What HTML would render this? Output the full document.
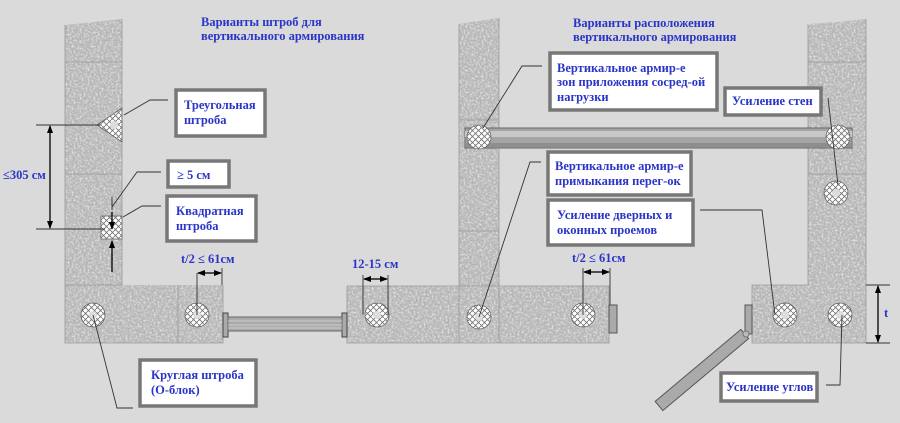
<!DOCTYPE html>
<html><head><meta charset="utf-8"><style>
html,body{margin:0;padding:0;background:#dadada;}
svg{display:block}
text{font-family:"Liberation Serif",serif;font-weight:bold;fill:#2a35c8;font-size:12.5px}
</style></head><body>
<svg width="900" height="423" viewBox="0 0 900 423" xmlns="http://www.w3.org/2000/svg">
<defs>
<filter id="gr" x="0" y="0" width="100%" height="100%">
<feTurbulence type="fractalNoise" baseFrequency="0.5" numOctaves="2" seed="3" result="n"/>
<feColorMatrix in="n" type="matrix" values="0 0 0 0 0.4  0 0 0 0 0.4  0 0 0 0 0.4  0 0 0 -1.6 0.9" result="a"/>
<feComposite in="a" in2="SourceGraphic" operator="in" result="d"/>
<feTurbulence type="fractalNoise" baseFrequency="0.5" numOctaves="2" seed="9" result="n2"/>
<feColorMatrix in="n2" type="matrix" values="0 0 0 0 0.95  0 0 0 0 0.95  0 0 0 0 0.95  0 0 0 -1.6 0.9" result="b"/>
<feComposite in="b" in2="SourceGraphic" operator="in" result="e"/>
<feMerge><feMergeNode in="SourceGraphic"/><feMergeNode in="d"/><feMergeNode in="e"/></feMerge>
</filter>
<pattern id="hx" width="6" height="6" patternUnits="userSpaceOnUse">
<rect width="6" height="6" fill="#fff"/><path d="M0 3 L3 0 M3 6 L6 3 M0 0 L6 6" stroke="#777" stroke-width="0.9"/>
</pattern>
<marker id="ar" markerWidth="8" markerHeight="8" refX="7" refY="4" orient="auto" markerUnits="userSpaceOnUse"><path d="M0 1 L8 4 L0 7z" fill="#000"/></marker>
</defs>
<rect width="900" height="423" fill="#dadada"/>
<g fill="#b9b9b9" filter="url(#gr)">
<path d="M65 25 L95 22 L122 19 L122 285 L65 285 Z"/>
<rect x="65" y="285" width="158" height="58"/>
<rect x="347" y="286" width="262" height="57"/>
<path d="M459 24 L499 18 L499 286 L459 286 Z"/>
<path d="M808 24 L838 22 L866 19 L866 285 L808 285 Z"/>
<rect x="752" y="285" width="114" height="58"/>
</g>
<g stroke="#999" stroke-width="0.8" fill="none">
<path d="M65 62H122M65 174H122M65 285H122V285M178 285V343"/>
<path d="M459 120H499M459 231H499M459 286V343M499 286V343"/>
<path d="M808 62H866M808 174H866"/>
<path d="M65 25V343H223V285M122 19V285M347 286H609V343H347Z M459 24V286M499 18V286M808 24V285M866 19V343H752V285H808"/>
</g>
<!-- pipe -->
<rect x="465" y="128" width="387" height="20" fill="#a4a4a4" stroke="#666"/>
<rect x="465" y="131" width="387" height="6" fill="#c8c8c8"/>
<rect x="465" y="143" width="387" height="4" fill="#8e8e8e"/>
<!-- circles -->
<g fill="url(#hx)" stroke="#666" stroke-width="0.8">
<circle cx="93" cy="315" r="12"/><circle cx="197" cy="315" r="12"/><circle cx="377" cy="315" r="12"/>
<circle cx="479" cy="317" r="12"/><circle cx="583" cy="315" r="12"/><circle cx="785" cy="315" r="12"/>
<circle cx="840" cy="315" r="12"/><circle cx="479" cy="137" r="12"/><circle cx="838" cy="137" r="12"/>
<circle cx="836" cy="193" r="12"/>
<path d="M122 108 L97 125 L122 142 Z"/><rect x="101" y="216" width="21" height="23"/>
</g>
<g fill="#ddd"><circle cx="93" cy="315" r="4"/><circle cx="197" cy="315" r="4"/><circle cx="377" cy="315" r="4"/><circle cx="479" cy="317" r="4"/><circle cx="583" cy="315" r="4"/><circle cx="785" cy="315" r="4"/><circle cx="840" cy="315" r="4"/><circle cx="836" cy="193" r="4"/><circle cx="114" cy="125" r="4"/></g>
<!-- door bars -->
<rect x="223" y="313" width="5" height="24" fill="#aaa" stroke="#444"/>
<rect x="342" y="313" width="5" height="24" fill="#aaa" stroke="#444"/>
<rect x="228" y="317" width="114" height="14" fill="#aaa" stroke="#666"/>
<path d="M228 321H342M228 325H342M228 328H342" stroke="#ccc"/>
<rect x="609" y="305" width="8" height="28" fill="#aaa" stroke="#555"/>
<rect x="745" y="305" width="7" height="29" fill="#aaa" stroke="#555"/>
<rect x="0" y="-6" width="112" height="12" fill="#aaa" stroke="#555" transform="translate(659,406) rotate(-40)"/>
<circle cx="746" cy="334" r="3" fill="#bbb" stroke="#777"/>
<!-- leaders -->
<g stroke="#333" stroke-width="0.9" fill="none">
<path d="M124 115 L150 100 L168 100"/>
<path d="M112 197 L112 207 L137 172 L161 172"/>
<path d="M112 197 V210"/>
<path d="M123 217 L142 206 L161 206"/>
<path d="M93 315 L117 408 L133 408"/>
<path d="M483 128 L522 66 L542 66"/>
<path d="M479 317 L530 162 L541 162"/>
<path d="M828 98 L838 185"/>
<path d="M700 210 L762 210 L775 315"/>
<path d="M842 315 L840 385 L826 385"/>
<path d="M36 125H100M36 229H105"/>
<path d="M197 315V273M222 268V285M363 275V315M388 275V315M583 315V268M610 268V305"/>
<path d="M866 285H890M866 343H890"/>
</g>
<g stroke="#000" stroke-width="1.3" fill="none" marker-end="url(#ar)" >
<path d="M50 175V126"/><path d="M50 175V228"/>
<path d="M210 273H198"/><path d="M210 273H221"/>
<path d="M376 279H364"/><path d="M376 279H387"/>
<path d="M597 272H584"/><path d="M597 272H609"/>
<path d="M878 314V286"/><path d="M878 314V342"/>
<path d="M112 272V241"/><path d="M112 212V229"/>
</g>
<!-- boxes -->
<g fill="#fff" stroke="#777" stroke-width="3.5">
<rect x="176" y="90" width="89" height="46"/>
<rect x="168" y="161" width="61" height="26"/>
<rect x="167" y="196" width="89" height="45"/>
<rect x="140" y="360" width="116" height="46"/>
<rect x="550" y="53" width="167" height="57"/>
<rect x="725" y="88" width="96" height="27"/>
<rect x="548" y="152" width="143" height="43"/>
<rect x="548" y="200" width="145" height="45"/>
<rect x="721" y="373" width="96" height="28"/>
</g>
<text x="201" y="26">Варианты штроб для</text>
<text x="201" y="40">вертикального армирования</text>
<text x="573" y="27">Варианты расположения</text>
<text x="573" y="41">вертикального армирования</text>
<text x="184" y="109">Треугольная</text><text x="184" y="124">штроба</text>
<text x="177" y="179">≥ 5 см</text>
<text x="176" y="215">Квадратная</text><text x="176" y="230">штроба</text>
<text x="151" y="379">Круглая штроба</text><text x="151" y="394">(О-блок)</text>
<text x="557" y="72">Вертикальное армир-е</text><text x="557" y="86">зон приложения сосред-ой</text><text x="557" y="101">нагрузки</text>
<text x="732" y="105">Усиление стен</text>
<text x="555" y="170">Вертикальное армир-е</text><text x="555" y="185">примыкания перег-ок</text>
<text x="557" y="219">Усиление дверных и</text><text x="557" y="234">оконных проемов</text>
<text x="726" y="391">Усиление углов</text>
<text x="3" y="179">≤305 см</text>
<text x="181" y="263">t/2  ≤ 61см</text>
<text x="352" y="268">12-15 см</text>
<text x="572" y="262">t/2  ≤ 61см</text>
<text x="884" y="317">t</text>
</svg>
</body></html>
